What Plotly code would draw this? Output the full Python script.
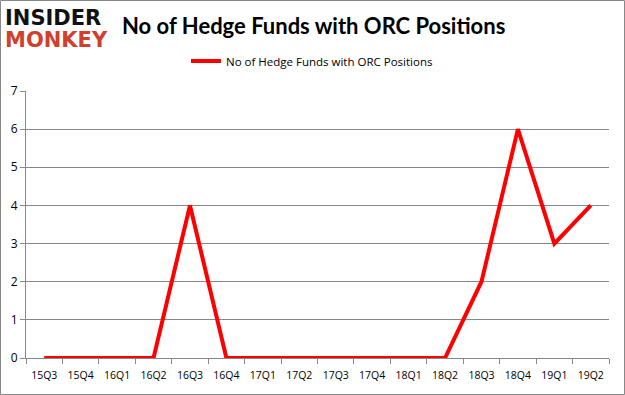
import plotly.graph_objects as go

quarters = ["15Q3", "15Q4", "16Q1", "16Q2", "16Q3", "16Q4", "17Q1", "17Q2",
            "17Q3", "17Q4", "18Q1", "18Q2", "18Q3", "18Q4", "19Q1", "19Q2"]
hedge_funds = [0, 0, 0, 0, 4, 0, 0, 0, 0, 0, 0, 0, 2, 6, 3, 4]
y_ticks = [0, 1, 2, 3, 4, 5, 6, 7]
series_name = "No of Hedge Funds with ORC Positions"
title_text = "No of Hedge Funds with ORC Positions"

W, H = 625, 395
L, R, T, B = 26, 16, 91, 37
pw, ph = W - L - R, H - T - B

fig = go.Figure()
fig.add_trace(go.Scatter(
    x=quarters, y=hedge_funds, mode="lines", name=series_name,
    line=dict(color="#ff0000", width=4),
))

def px_x(p):
    return (p - L) / pw

def px_y(p):
    return (H - B - p) / ph

fig.update_layout(
    width=W, height=H,
    margin=dict(l=L, r=R, t=T, b=B, autoexpand=False),
    paper_bgcolor="white", plot_bgcolor="white",
    font=dict(family="Lato, 'Open Sans', sans-serif", color="#000000"),
    showlegend=True,
    legend=dict(orientation="h", x=px_x(186), xanchor="left", y=px_y(61), yanchor="middle",
                font=dict(size=11.5, family="'Open Sans', sans-serif"), itemwidth=30),
    xaxis=dict(
        type="category", range=[-0.5, 15.5], tickson="boundaries",
        ticks="outside", ticklen=5, tickcolor="#888888", tickangle=0,
        ticklabelstandoff=7,
        showline=True, linecolor="#888888", linewidth=1,
        showgrid=False, tickfont=dict(size=10.5, family="'Open Sans', sans-serif"),
        fixedrange=True,
    ),
    yaxis=dict(
        range=[0, 7], tickvals=y_ticks, ticks="outside", ticklen=5, tickcolor="#888888",
        showline=True, linecolor="#888888", linewidth=1,
        showgrid=True, gridcolor="#888888", gridwidth=1, zeroline=False,
        tickfont=dict(size=12, family="'Open Sans', sans-serif"),
        fixedrange=True,
    ),
    shapes=[dict(type="rect", xref="paper", yref="paper",
                 x0=px_x(0.5), x1=px_x(624.5), y0=px_y(394.5), y1=px_y(0.5),
                 line=dict(color="#888888", width=1), fillcolor="rgba(0,0,0,0)", layer="below")],
    annotations=[
        dict(text="<b>" + title_text + "</b>", xref="paper", yref="paper",
             x=px_x(313), y=px_y(25), xanchor="center", yanchor="middle",
             showarrow=False, font=dict(size=22, family="Lato, sans-serif", color="#000")),
        dict(text="<b>INSIDER</b>", xref="paper", yref="paper",
             x=px_x(3), y=px_y(18), xanchor="left", yanchor="middle",
             showarrow=False, font=dict(size=21, family="'DejaVu Sans', sans-serif", color="#111111")),
        dict(text="<b>MONKEY</b>", xref="paper", yref="paper",
             x=px_x(3), y=px_y(40), xanchor="left", yanchor="middle",
             showarrow=False, font=dict(size=21, family="'DejaVu Sans', sans-serif", color="#d0402c")),
    ],
)

fig.write_html("out.html", config={"displayModeBar": False},
               post_script="document.body.style.margin='0';")
